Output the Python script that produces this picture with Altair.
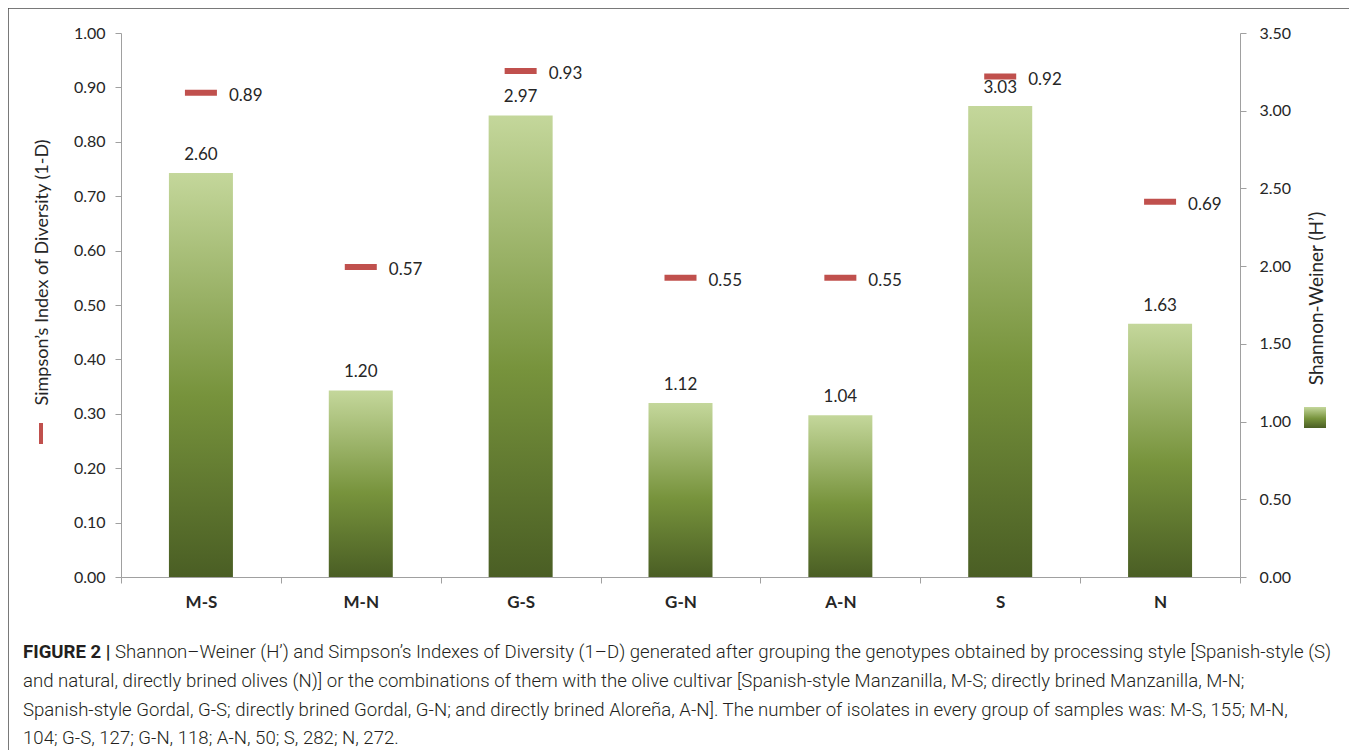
import altair as alt
import pandas as pd

# ---- data ----
categories = ["M-S", "M-N", "G-S", "G-N", "A-N", "S", "N"]
shannon = [2.60, 1.20, 2.97, 1.12, 1.04, 3.03, 1.63]
simpson = [0.89, 0.57, 0.93, 0.55, 0.55, 0.92, 0.69]
shannon_ticks = [0.0, 0.5, 1.0, 1.5, 2.0, 2.5, 3.0, 3.5]
simpson_ticks = [0.0, 0.1, 0.2, 0.3, 0.4, 0.5, 0.6, 0.7, 0.8, 0.9, 1.0]

simpson_title = "Simpson’s Index of Diversity (1-D)"
shannon_title = "Shannon-Weiner (H’)"

caption_bold = "FIGURE 2 |"
caption_first = ("Shannon–Weiner (H’) and Simpson’s Indexes of Diversity (1–D) generated after "
                 "grouping the genotypes obtained by processing style [Spanish-style (S)")
caption_rest = [
    "and natural, directly brined olives (N)] or the combinations of them with the olive cultivar "
    "[Spanish-style Manzanilla, M-S; directly brined Manzanilla, M-N;",
    "Spanish-style Gordal, G-S; directly brined Gordal, G-N; and directly brined Aloreña, A-N]. "
    "The number of isolates in every group of samples was: M-S, 155; M-N,",
    "104; G-S, 127; G-N, 118; A-N, 50; S, 282; N, 272.",
]

df = pd.DataFrame({"group": categories, "shannon": shannon, "simpson": simpson})
one = pd.DataFrame({"k": [0]})

W, H = 1119, 544
FONT = "Lato"
CAP_FONT = "Roboto"
TXT = "#262626"
AX = "#a0a0a0"
RED = "#c0504d"
CAP_COLOR = "#231f20"
CAP_SIZE = 18.6

green = alt.Gradient(
    gradient="linear",
    stops=[
        alt.GradientStop(offset=0, color="#c4d79b"),
        alt.GradientStop(offset=0.55, color="#77933c"),
        alt.GradientStop(offset=1, color="#4a5e24"),
    ],
    x1=0, x2=0, y1=0, y2=1,
)

x = alt.X(
    "group:N", sort=categories,
    scale=alt.Scale(paddingInner=0, paddingOuter=0),
    axis=alt.Axis(title=None, labelAngle=0, labelFont=FONT, labelFontSize=17,
                  labelFontWeight="bold", labelColor=TXT, labelPadding=11,
                  tickBand="extent", tickSize=6, domainColor=AX, tickColor=AX),
)

y_sh = alt.Y(
    "shannon:Q", scale=alt.Scale(domain=[0, 3.5], nice=False),
    axis=alt.Axis(orient="right", values=shannon_ticks, format=".2f", grid=False,
                  labelFont=FONT, labelFontSize=16, labelColor=TXT, labelPadding=13,
                  tickSize=6, domainColor=AX, tickColor=AX,
                  title=shannon_title, titleFont=FONT, titleFontSize=19,
                  titleFontWeight="normal", titleColor=TXT, titleAngle=-90,
                  titleX=76, titleY=265, titleAlign="center", titleBaseline="middle"),
)

y_si = alt.Y(
    "simpson:Q", scale=alt.Scale(domain=[0, 1], nice=False),
    axis=alt.Axis(orient="left", values=simpson_ticks, format=".2f", grid=False,
                  labelFont=FONT, labelFontSize=16, labelColor=TXT, labelPadding=10,
                  tickSize=6, domainColor=AX, tickColor=AX,
                  title=simpson_title, titleFont=FONT, titleFontSize=18,
                  titleFontWeight="normal", titleColor=TXT, titleAngle=-90,
                  titleX=-79, titleY=239, titleAlign="center", titleBaseline="middle"),
)

bars = alt.Chart(df).mark_bar(size=64, color=green).encode(x=x, y=y_sh)
bar_labels = alt.Chart(df).mark_text(
    dy=-13, baseline="alphabetic", font=FONT, fontSize=17, color=TXT
).encode(x=x, y=y_sh, text=alt.Text("shannon:Q", format=".2f"))
shannon_layer = alt.layer(bars, bar_labels)

ticks = alt.Chart(df).mark_tick(size=32, thickness=6, color=RED, opacity=1).encode(x=x, y=y_si)
tick_labels = alt.Chart(df).mark_text(
    align="left", dx=28, dy=3, baseline="middle", font=FONT, fontSize=17, color=TXT
).encode(x=x, y=y_si, text=alt.Text("simpson:Q", format=".2f"))
simpson_layer = alt.layer(ticks, tick_labels)

# ---- decorations: frame, legend swatches, caption ----
frame = alt.Chart(one).mark_rect(filled=False, stroke="#4d4d4d", strokeWidth=1.5).encode(
    x=alt.value(-113), x2=alt.value(1231), y=alt.value(-25), y2=alt.value(760))
red_key = alt.Chart(one).mark_rect(color=RED).encode(
    x=alt.value(-82), x2=alt.value(-78), y=alt.value(390), y2=alt.value(411))
green_key = alt.Chart(one).mark_rect(color=green).encode(
    x=alt.value(1183), x2=alt.value(1205), y=alt.value(374), y2=alt.value(395))

cap_bold = alt.Chart(one).mark_text(
    align="left", baseline="alphabetic", font=CAP_FONT, fontSize=CAP_SIZE, fontWeight="bold",
    color=CAP_COLOR
).encode(x=alt.value(-98), y=alt.value(625), text=alt.value(caption_bold))
cap_first = alt.Chart(one).mark_text(
    align="left", baseline="alphabetic", font=CAP_FONT, fontSize=CAP_SIZE, fontWeight=300,
    color=CAP_COLOR
).encode(x=alt.value(-6), y=alt.value(625), text=alt.value(caption_first))
cap_rest = alt.Chart(one).mark_text(
    align="left", baseline="alphabetic", font=CAP_FONT, fontSize=CAP_SIZE, fontWeight=300,
    color=CAP_COLOR, lineHeight=28.5
).encode(x=alt.value(-98), y=alt.value(654), text=alt.value(caption_rest))

chart = alt.layer(
    simpson_layer, shannon_layer, frame, red_key, green_key, cap_bold, cap_first, cap_rest
).resolve_scale(y="independent").properties(
    width=W, height=H,
    autosize=alt.AutoSizeParams(type="none"),
    padding={"left": 113, "top": 25, "right": 109, "bottom": 173},
).configure_view(strokeWidth=0)

chart.save("out.html", embed_options={"renderer": "svg", "actions": False})
